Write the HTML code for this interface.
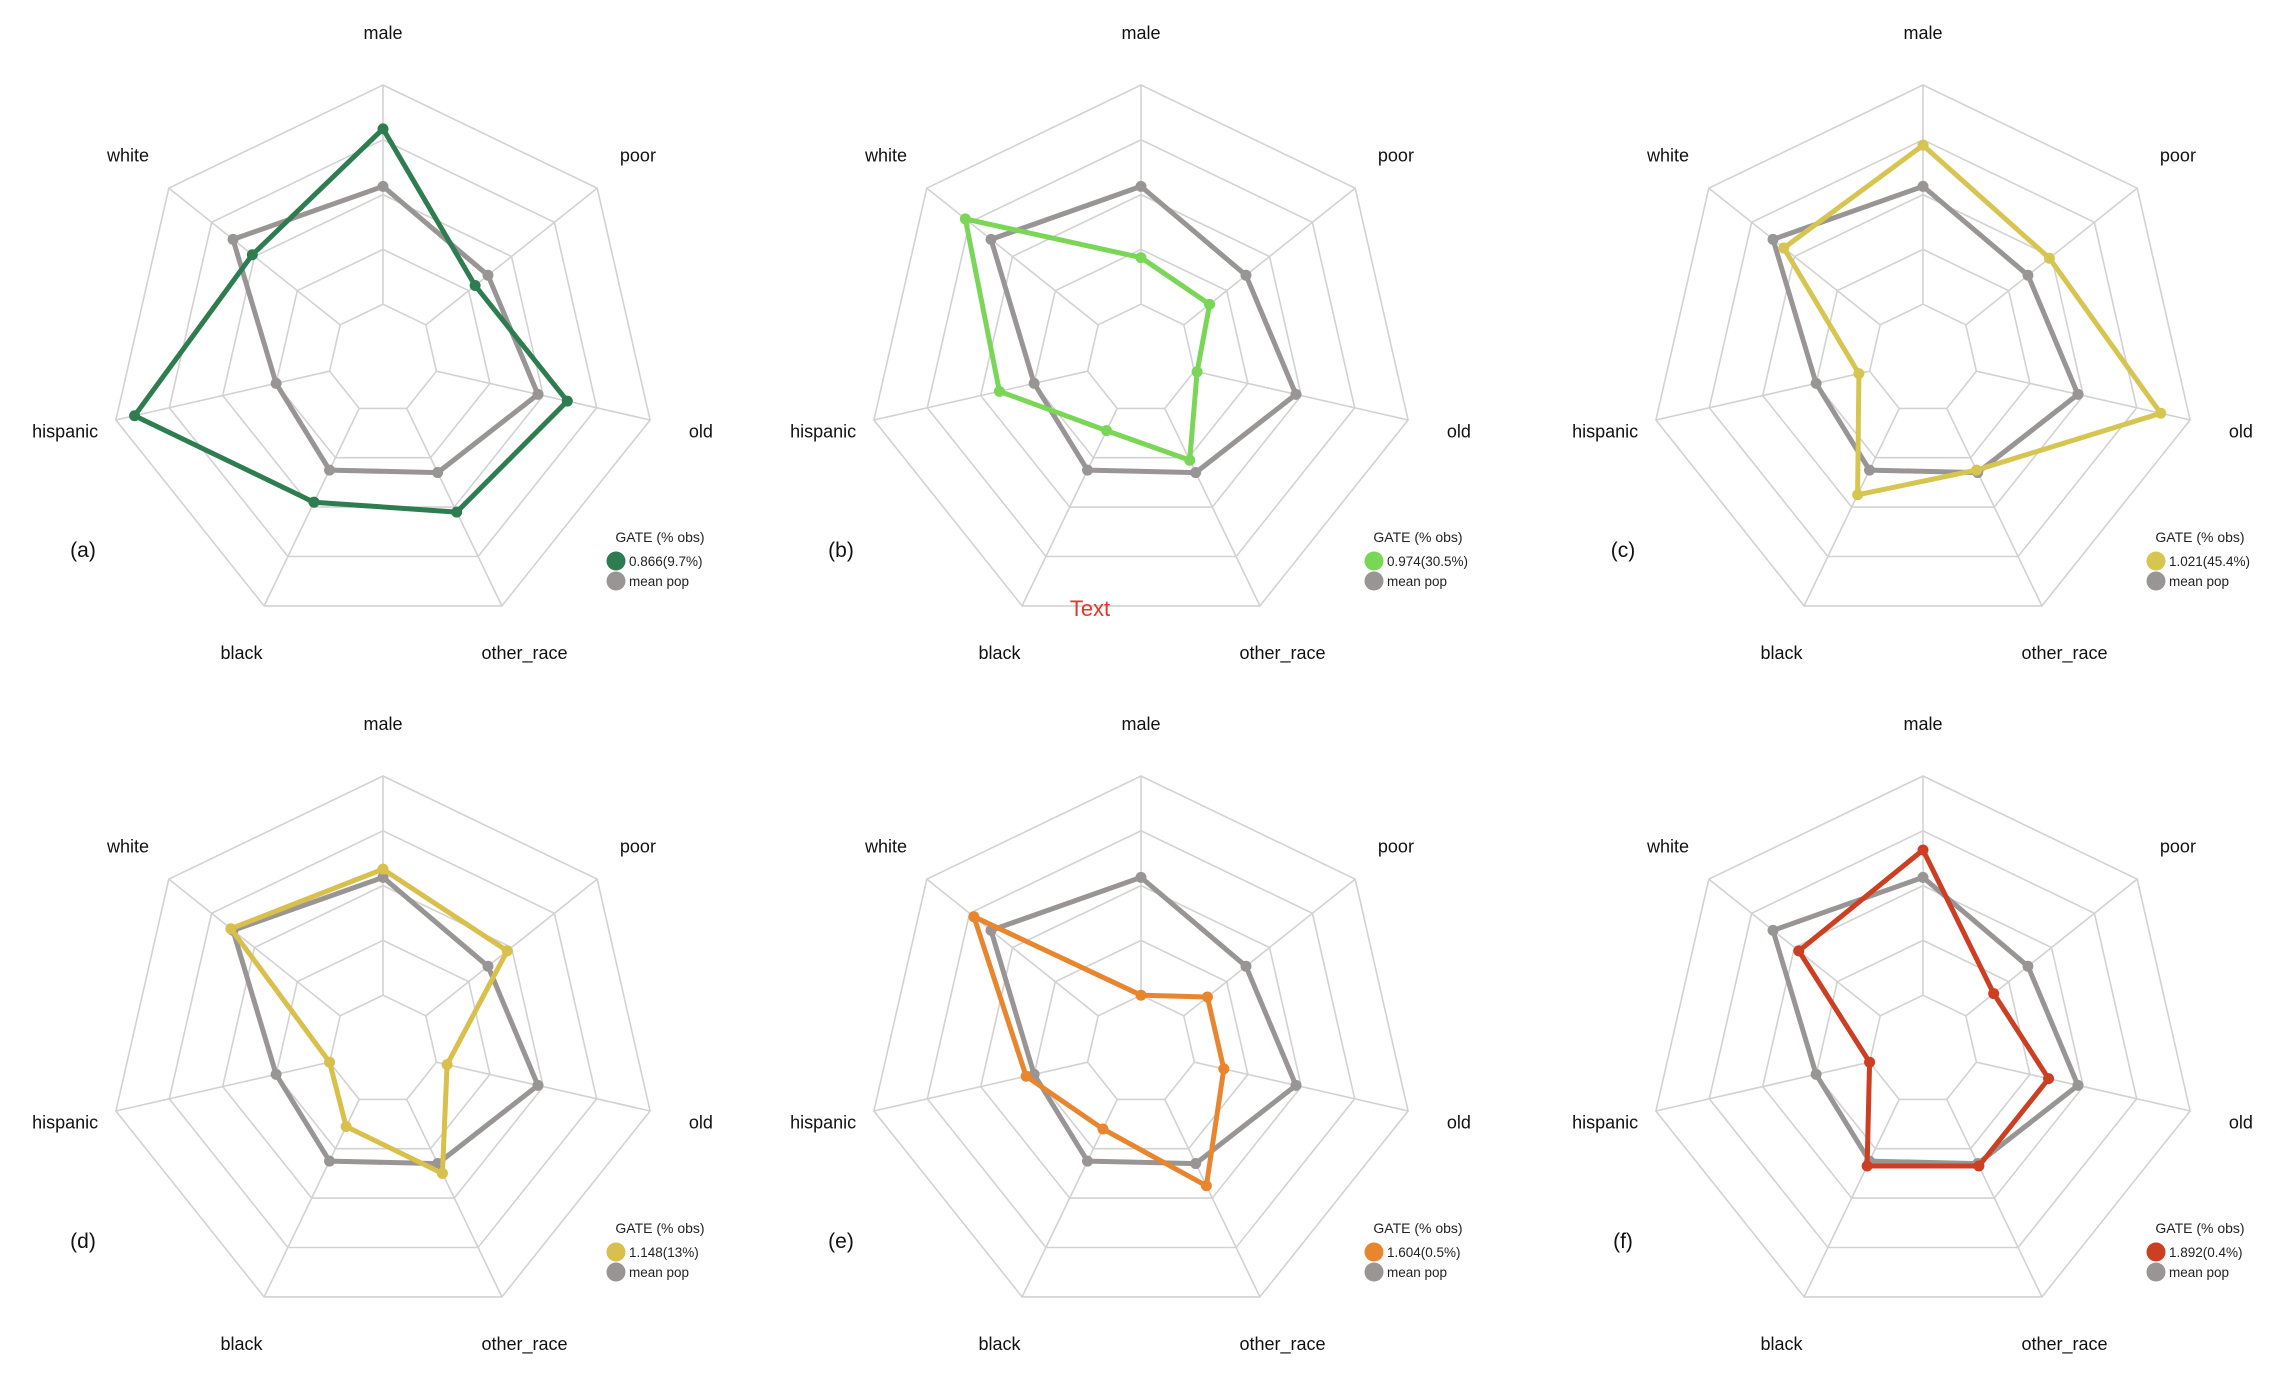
<!DOCTYPE html>
<html><head><meta charset="utf-8">
<style>
html,body{margin:0;padding:0;background:#fff;}
svg{display:block;font-family:"Liberation Sans",Arial,sans-serif;}
</style></head>
<body>
<svg id="chart" width="2285" height="1384" viewBox="0 0 2285 1384" xmlns="http://www.w3.org/2000/svg"></svg>
<script>
const axes = ["male","poor","old","other_race","black","hispanic","white"];
const meanPop = [0.63,0.49,0.58,0.46,0.45,0.40,0.70];
const seriesA = [0.84,0.43,0.69,0.62,0.58,0.93,0.61];
const seriesB = [0.37,0.32,0.21,0.41,0.29,0.53,0.82];
const seriesC = [0.78,0.59,0.89,0.45,0.55,0.24,0.65];
const seriesD = [0.66,0.58,0.24,0.50,0.31,0.20,0.71];
const seriesE = [0.20,0.31,0.31,0.55,0.32,0.43,0.78];
const seriesF = [0.73,0.33,0.47,0.47,0.47,0.20,0.58];
const panelLabels = ["(a)","(b)","(c)","(d)","(e)","(f)"];
const legendLabels = ["0.866(9.7%)","0.974(30.5%)","1.021(45.4%)","1.148(13%)","1.604(0.5%)","1.892(0.4%)"];
const ringLevels = [0.2,0.4,0.6,0.8,1.0];

const allSeries = [seriesA,seriesB,seriesC,seriesD,seriesE,seriesF];
const colors = ["#2e7d50","#7ad657","#d6c651","#d9bf4c","#e8862f","#cc3f22"];
const centers = [[383,359],[1141,359],[1923,359],[383,1050],[1141,1050],[1923,1050]];
const R = 274;
const GRAY = "#999595";
const NS = "http://www.w3.org/2000/svg";
const svg = document.getElementById("chart");

function mk(tag, attrs, parent){
  const e = document.createElementNS(NS, tag);
  for (const k in attrs) e.setAttribute(k, attrs[k]);
  (parent||svg).appendChild(e);
  return e;
}
function ang(i){ return -Math.PI/2 + i*2*Math.PI/axes.length; }
function px(c, i, v){ return c[0] + Math.cos(ang(i))*v*R; }
function py(c, i, v){ return c[1] + Math.sin(ang(i))*v*R; }

centers.forEach((c, p) => {
  const g = mk("g", {});
  
  
  ringLevels.forEach(lv => {
    const pts = axes.map((a,i)=> px(c,i,lv).toFixed(1)+","+py(c,i,lv).toFixed(1)).join(" ");
    const ring = mk("polygon", {points:pts, fill:"none", stroke:"#d2d2d2", "stroke-width":1.6}, g);
    
    
  });
  axes.forEach((a,i) => {
    const s = mk("line", {x1:px(c,i,0.2), y1:py(c,i,0.2), x2:px(c,i,1), y2:py(c,i,1), stroke:"#d2d2d2", "stroke-width":1.6}, g);
    
    
    const t = mk("text", {x:px(c,i,1.19), y:py(c,i,1.19)+6, "text-anchor":"middle", "font-size":18, fill:"#111"}, g);
    t.textContent = a;
    
    
  });
  const drawSeries = (vals, col, w, r, name) => {
    const pts = vals.map((v,i)=> px(c,i,v).toFixed(1)+","+py(c,i,v).toFixed(1)).join(" ");
    const pl = mk("polygon", {points:pts, fill:"none", stroke:col, "stroke-width":w, "stroke-linejoin":"round"}, g);
    
    
    vals.forEach((v,i) => {
      const d = mk("circle", {cx:px(c,i,v), cy:py(c,i,v), r:r, fill:col}, g);
      
      
    });
  };
  drawSeries(meanPop, GRAY, 5, 5.5, 'mean-pop');
  drawSeries(allSeries[p], colors[p], 5, 5.5, 'gate-series');
  const pl = mk("text", {x:c[0]-300, y:c[1]+198, "text-anchor":"middle", "font-size":21, fill:"#111"}, g);
  pl.textContent = panelLabels[p];
  
  
  const lg = mk("g", {}, g);
  
  
  const lt = mk("text", {x:c[0]+277, y:c[1]+183, "text-anchor":"middle", "font-size":14, fill:"#222"}, lg);
  lt.textContent = "GATE (% obs)";
  
  
  const c1 = mk("circle", {cx:c[0]+233, cy:c[1]+202, r:9.5, fill:colors[p]}, lg);
  
  
  const t1 = mk("text", {x:c[0]+246, y:c[1]+207, "font-size":13.5, fill:"#222"}, lg);
  t1.textContent = legendLabels[p];
  
  
  const c2 = mk("circle", {cx:c[0]+233, cy:c[1]+222, r:9.5, fill:GRAY}, lg);
  
  
  const t2 = mk("text", {x:c[0]+246, y:c[1]+227, "font-size":13.5, fill:"#222"}, lg);
  t2.textContent = "mean pop";
  
  
});
const stray = mk("text", {x:1090, y:616, "text-anchor":"middle", "font-size":22, fill:"#e0392b"});
stray.textContent = "Text";


</script>
</body></html>
